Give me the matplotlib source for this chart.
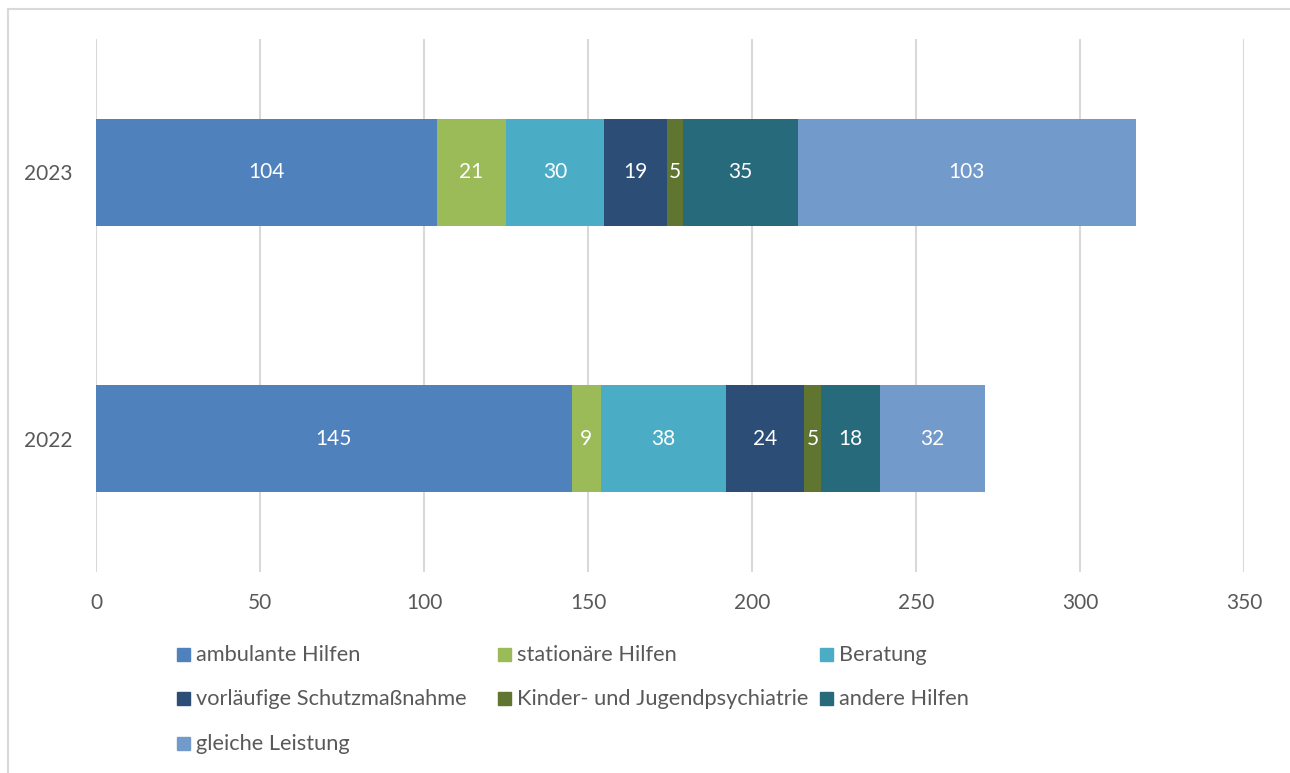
import matplotlib
matplotlib.use("Agg")
import matplotlib.pyplot as plt
from matplotlib.patches import Rectangle
from matplotlib.lines import Line2D

years = ["2022", "2023"]
series = ["ambulante Hilfen", "stationäre Hilfen", "Beratung",
          "vorläufige Schutzmaßnahme", "Kinder- und Jugendpsychiatrie",
          "andere Hilfen", "gleiche Leistung"]
values = {
    "ambulante Hilfen": [145, 104],
    "stationäre Hilfen": [9, 21],
    "Beratung": [38, 30],
    "vorläufige Schutzmaßnahme": [24, 19],
    "Kinder- und Jugendpsychiatrie": [5, 5],
    "andere Hilfen": [18, 35],
    "gleiche Leistung": [32, 103],
}
colors = ["#4F81BD", "#9BBB59", "#4BACC6", "#2C4D75", "#5F7530", "#276A7C", "#729ACA"]
xticks = [0, 50, 100, 150, 200, 250, 300, 350]

plt.rcParams['font.family'] = ['Lato', 'DejaVu Sans']
W, H = 1290, 773
fig = plt.figure(figsize=(W / 100, H / 100), dpi=100)
ax = fig.add_axes([96 / W, 1 - 572 / H, (1244 - 96) / W, (572 - 39) / H])

left = [0, 0]
ypos = list(range(len(years)))
for s, c in zip(series, colors):
    v = values[s]
    bars = ax.barh(ypos, v, left=left, height=0.40, color=c, zorder=3)
    for i, b in enumerate(bars):
        ax.text(left[i] + v[i] / 2, ypos[i], str(v[i]), ha='center', va='center',
                color='white', fontsize=15, zorder=4)
    left = [l + x for l, x in zip(left, v)]

ax.set_xlim(0, 350)
ax.set_ylim(-0.5, 1.5)
ax.set_xticks(xticks)
ax.set_yticks(ypos)
ax.set_yticklabels(years)
ax.grid(axis='x', color='#D9D9D9', linewidth=1.5, zorder=0)
for sp in ax.spines.values():
    sp.set_visible(False)
ax.tick_params(axis='both', length=0, labelsize=15, labelcolor='#595959')
ax.tick_params(axis='x', pad=15)
ax.tick_params(axis='y', pad=17)

# legend (row-major, equal columns like Excel)
col_x = [177, 498, 820]
row_y = [655, 699, 744]
for k, (s, c) in enumerate(zip(series, colors)):
    r, col = divmod(k, 3)
    x0, y0 = col_x[col], row_y[r]
    fig.patches.append(Rectangle((x0 / W, 1 - (y0 + 6) / H), 13 / W, 13 / H,
                                 transform=fig.transFigure, color=c))
    fig.text((x0 + 19) / W, 1 - y0 / H, s, ha='left', va='center',
             fontsize=15.7, color='#595959')

# chart border
fig.add_artist(Line2D([8 / W, 1], [1 - 9 / H, 1 - 9 / H], transform=fig.transFigure,
                      color='#D9D9D9', linewidth=1.5))
fig.add_artist(Line2D([8 / W, 8 / W], [1 - 9 / H, 0], transform=fig.transFigure,
                      color='#D9D9D9', linewidth=1.5))

fig.savefig("out.png", dpi=100)
